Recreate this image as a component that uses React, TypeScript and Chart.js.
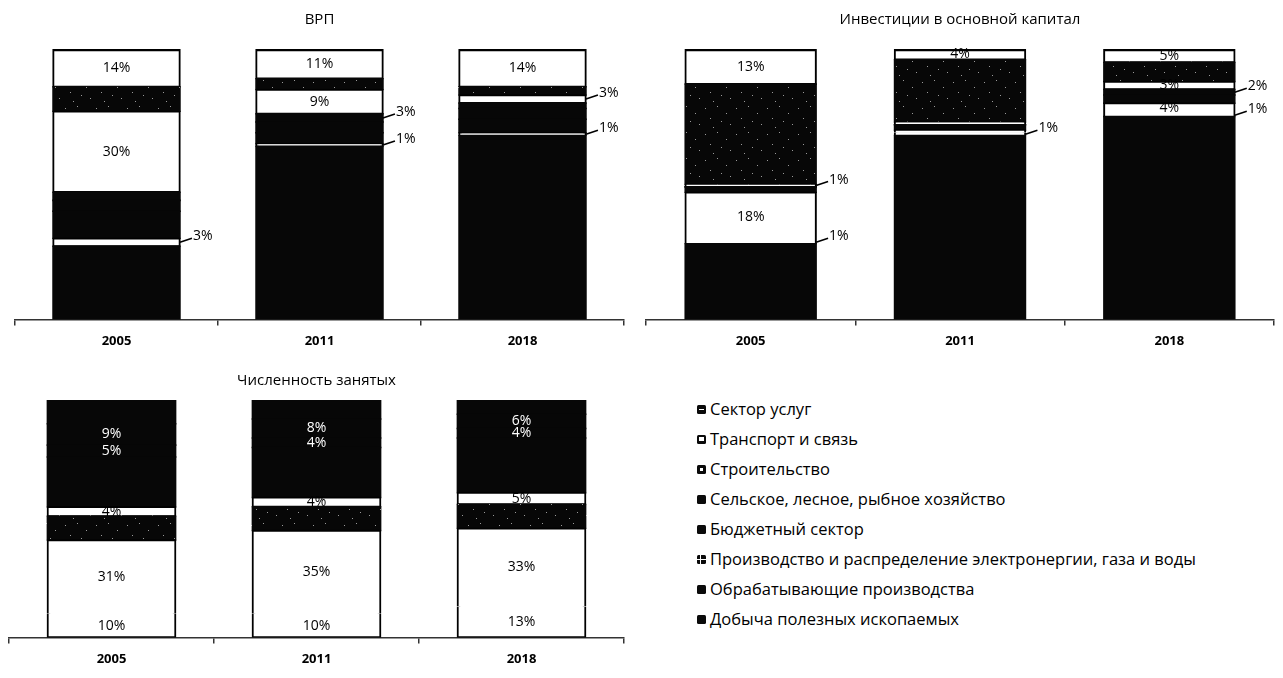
import React, { useEffect, useRef } from "react";
import { Chart, registerables } from "chart.js";

Chart.register(...registerables);
Chart.defaults.font.family = '"Open Sans", "DejaVu Sans", sans-serif';

// ---------- data ----------
const years = ["2005", "2011", "2018"];

// stack order: bottom -> top
const seriesNames = [
  "Добыча полезных ископаемых",
  "Обрабатывающие производства",
  "Производство и распределение электронергии, газа и воды",
  "Бюджетный сектор",
  "Сельское, лесное, рыбное хозяйство",
  "Строительство",
  "Транспорт и связь",
  "Сектор услуг",
];

// ВРП, % (2005, 2011, 2018)
const grpMining = [27, 64, 68];
const grpManufacturing = [3, 1, 1];
const grpUtilities = [10, 4, 5];
const grpBudget = [4, 4, 4];
const grpAgriculture = [3, 3, 2];
const grpConstruction = [30, 9, 3];
const grpTransport = [9, 4, 3];
const grpServices = [14, 11, 14];

// Инвестиции в основной капитал, %
const invMining = [28, 68, 75];
const invManufacturing = [1, 1, 1];
const invUtilities = [18, 1, 4];
const invBudget = [2, 2, 3];
const invAgriculture = [0, 0, 2];
const invConstruction = [1, 1, 3];
const invTransport = [37, 23, 7];
const invServices = [13, 4, 5];

// Численность занятых, %
const empMining = [10, 10, 13];
const empManufacturing = [31, 35, 33];
const empUtilities = [10, 10, 10];
const empBudget = [4, 4, 5];
const empAgriculture = [21, 21, 23];
const empConstruction = [5, 4, 4];
const empTransport = [9, 8, 6];
const empServices = [10, 8, 6];

// ---------- styling (scan look: k = black, w = white, s = speckled) ----------
type Cfg = {
  title: string;
  series: number[][];
  colors: string[];
  labels: string[][];
  padding: { left: number; right: number; top: number; bottom: number };
  titlePad: { top: number; bottom: number };
};

const grpCfg: Cfg = {
  title: "ВРП",
  series: [grpMining, grpManufacturing, grpUtilities, grpBudget, grpAgriculture, grpConstruction, grpTransport, grpServices],
  colors: ["k", "w", "k", "k", "k", "w", "s", "w"],
  labels: [
    ["", "", ""],
    ["out", "out", "out"],
    ["", "", ""],
    ["", "", ""],
    ["", "out", ""],
    ["in", "in", "out"],
    ["", "", ""],
    ["in", "in", "in"],
  ],
  padding: { left: 15, right: 16, top: 0, bottom: 8 },
  titlePad: { top: 11, bottom: 20 },
};

const invCfg: Cfg = {
  title: "Инвестиции в основной капитал",
  series: [invMining, invManufacturing, invUtilities, invBudget, invAgriculture, invConstruction, invTransport, invServices],
  colors: ["k", "w", "w", "k", "k", "w", "s", "w"],
  labels: [
    ["", "", ""],
    ["out", "out", "out"],
    ["in", "", "in"],
    ["", "", ""],
    ["", "", "out"],
    ["out", "", "in"],
    ["", "", ""],
    ["in", "in", "in"],
  ],
  padding: { left: 6, right: 9, top: 0, bottom: 8 },
  titlePad: { top: 11, bottom: 20 },
};

const empCfg: Cfg = {
  title: "Численность занятых",
  series: [empMining, empManufacturing, empUtilities, empBudget, empAgriculture, empConstruction, empTransport, empServices],
  colors: ["w", "w", "s", "w", "k", "k", "k", "k"],
  labels: [
    ["in", "in", "in"],
    ["in", "in", "in"],
    ["", "", ""],
    ["in", "in", "in"],
    ["", "", ""],
    ["in", "in", "in"],
    ["in", "in", "in"],
    ["", "", ""],
  ],
  padding: { left: 9, right: 16, top: 0, bottom: 3 },
  titlePad: { top: 7, bottom: 10 },
};

const SPECKS = [
  [3, 4], [15, 2], [24, 9], [8, 14], [19, 17], [28, 20], [11, 23],
];

function makeSpeckle(ctx: CanvasRenderingContext2D) {
  const c = document.createElement("canvas");
  c.width = 31;
  c.height = 26;
  const g = c.getContext("2d")!;
  g.fillStyle = "#070707";
  g.fillRect(0, 0, 31, 26);
  g.fillStyle = "#9a9a9a";
  SPECKS.forEach(([x, y]) => g.fillRect(x, y, 1, 1));
  return ctx.createPattern(c, "repeat");
}

function borderFor(cfg: Cfg, di: number, idx: number) {
  if (cfg.colors[di] !== "w" || !cfg.series[di][idx]) return 0;
  let below = -1;
  for (let j = di - 1; j >= 0; j--) if (cfg.series[j][idx] > 0) { below = j; break; }
  let above = -1;
  for (let j = di + 1; j < cfg.series.length; j++) if (cfg.series[j][idx] > 0) { above = j; break; }
  return {
    left: 2,
    right: 2,
    bottom: below >= 0 && cfg.colors[below] === "w" ? 0 : 2,
    top: above >= 0 ? (cfg.colors[above] === "w" ? 0 : 2) : 3,
  };
}

function labelPlugin(cfg: Cfg) {
  return {
    id: "segLabels",
    afterDatasetsDraw(chart: any) {
      const ctx: CanvasRenderingContext2D = chart.ctx;
      chart.data.datasets.forEach((ds: any, di: number) => {
        const meta = chart.getDatasetMeta(di);
        meta.data.forEach((bar: any, i: number) => {
          const mode = cfg.labels[di][i];
          if (!mode) return;
          const v = ds.data[i];
          const p = bar.getProps(["x", "y", "base", "width"], true);
          const cy = (p.y + p.base) / 2;
          const text = v + "%";
          ctx.save();
          ctx.font = '14px "Open Sans", sans-serif';
          if (mode === "in") {
            ctx.fillStyle = cfg.colors[di] === "w" ? "#000" : "#fff";
            ctx.textAlign = "center";
            ctx.textBaseline = "middle";
            ctx.fillText(text, p.x, cy);
          } else {
            const xr = p.x + p.width / 2;
            ctx.strokeStyle = "#000";
            ctx.lineWidth = 1.6;
            ctx.beginPath();
            ctx.moveTo(xr, cy);
            ctx.lineTo(xr + 12, cy - 4);
            ctx.stroke();
            ctx.fillStyle = "#000";
            ctx.textAlign = "left";
            ctx.textBaseline = "middle";
            ctx.fillText(text, xr + 13, cy - 6);
          }
          ctx.restore();
        });
      });
    },
  };
}

function StackChart({ cfg, width, height }: { cfg: Cfg; width: number; height: number }) {
  const ref = useRef<HTMLCanvasElement>(null);
  useEffect(() => {
    const canvas = ref.current!;
    const ctx = canvas.getContext("2d")!;
    const speckle = makeSpeckle(ctx);
    const fill = (code: string) => (code === "k" ? "#070707" : code === "w" ? "#ffffff" : speckle);
    const chart = new Chart(canvas, {
      type: "bar",
      data: {
        labels: years,
        datasets: cfg.series.map((values, di) => ({
          label: seriesNames[di],
          data: values,
          backgroundColor: fill(cfg.colors[di]) as any,
          borderColor: "#000",
          borderWidth: ((c: any) => borderFor(cfg, c.datasetIndex, c.dataIndex)) as any,
          borderSkipped: false,
          inflateAmount: 0.8,
          barPercentage: 0.625,
          categoryPercentage: 1,
          stack: "all",
        })),
      },
      options: {
        responsive: false,
        animation: false,
        layout: { padding: cfg.padding },
        plugins: {
          legend: { display: false },
          tooltip: { enabled: false },
          title: {
            display: true,
            text: cfg.title,
            color: "#000",
            font: { size: 15, weight: "normal" },
            padding: cfg.titlePad,
          },
        },
        scales: {
          x: {
            stacked: true,
            grid: {
              display: true,
              drawOnChartArea: false,
              drawTicks: true,
              tickLength: 6,
              color: "#333",
              lineWidth: 1.5,
              offset: true,
            },
            border: { display: true, color: "#333", width: 1.5 },
            ticks: { color: "#000", font: { size: 13, weight: "bold" }, padding: 8 },
          },
          y: { stacked: true, min: 0, max: 100, display: false },
        },
      },
      plugins: [labelPlugin(cfg)],
    });
    return () => chart.destroy();
  }, [cfg]);
  return <canvas ref={ref} width={width} height={height} style={{ width, height, display: "block" }} />;
}

function Marker({ kind }: { kind: number }) {
  const base: React.CSSProperties = {
    position: "absolute",
    left: 0,
    top: -5,
    width: 9,
    height: 9,
    background: "#0a0a0a",
    borderRadius: 1.5,
  };
  let inner: React.ReactNode = null;
  if (kind === 7) inner = <div style={{ position: "absolute", left: 2, top: 4, width: 5, height: 1, background: "#fff" }} />;
  if (kind === 6) inner = <div style={{ position: "absolute", left: 2, top: 2, width: 5, height: 4, background: "#fff" }} />;
  if (kind === 5) inner = <div style={{ position: "absolute", left: 3, top: 3, width: 3, height: 3, background: "#fff" }} />;
  if (kind === 2)
    inner = (
      <>
        <div style={{ position: "absolute", left: 3, top: 0, width: 1, height: 9, background: "#fff" }} />
        <div style={{ position: "absolute", left: 0, top: 4, width: 9, height: 1, background: "#fff" }} />
      </>
    );
  return <div style={base}>{inner}</div>;
}

export default function App() {
  const legendOrder = seriesNames.map((_, i) => seriesNames.length - 1 - i);
  return (
    <div style={{ position: "absolute", left: 0, top: 0, width: 1283, height: 678, background: "#fff", overflow: "hidden" }}>
      <div style={{ position: "absolute", left: 0, top: 0 }}>
        <StackChart cfg={grpCfg} width={640} height={365} />
      </div>
      <div style={{ position: "absolute", left: 640, top: 0 }}>
        <StackChart cfg={invCfg} width={643} height={365} />
      </div>
      <div style={{ position: "absolute", left: 0, top: 365 }}>
        <StackChart cfg={empCfg} width={640} height={313} />
      </div>
      {legendOrder.map((si, row) => (
        <div key={si} style={{ position: "absolute", left: 697, top: 410 + row * 30, height: 0 }}>
          <Marker kind={si} />
          <div
            style={{
              position: "absolute",
              left: 13,
              top: -12,
              whiteSpace: "nowrap",
              fontFamily: '"Open Sans", sans-serif',
              fontSize: 16.5,
              lineHeight: "22px",
              color: "#000",
            }}
          >
            {seriesNames[si]}
          </div>
        </div>
      ))}
    </div>
  );
}
